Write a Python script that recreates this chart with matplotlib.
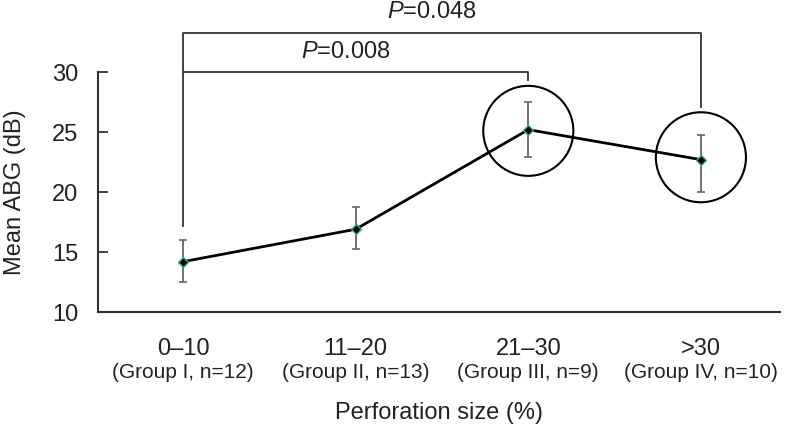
import matplotlib
matplotlib.use("Agg")
import matplotlib.pyplot as plt
from matplotlib.patches import Ellipse

plt.rcParams['font.family'] = ['Liberation Sans', 'DejaVu Sans']
plt.rcParams['mathtext.fontset'] = 'custom'
plt.rcParams['mathtext.it'] = 'Liberation Sans:italic'
plt.rcParams['mathtext.rm'] = 'Liberation Sans'

# data
ranges = ["0\u201310", "11\u201320", "21\u201330", ">30"]
groups = ["(Group I, n=12)", "(Group II, n=13)", "(Group III, n=9)", "(Group IV, n=10)"]
mean_abg = [14.2, 16.9, 25.2, 22.7]
err_low = [1.7, 1.65, 2.3, 2.7]
err_high = [1.8, 1.85, 2.3, 2.05]

# significance brackets: (from group, to group, p text)
brackets = [(0, 2, "0.008"), (0, 3, "0.048")]
circled = [2, 3]

x = list(range(len(ranges)))

fig = plt.figure(figsize=(7.87, 4.34), dpi=100)
ax = fig.add_axes([0.1245, 0.281, 0.867, 0.553])

ax.errorbar(x, mean_abg, yerr=[err_low, err_high], fmt='none',
            ecolor='#666666', elinewidth=1.3, capsize=3, capthick=1.2, zorder=2)
ax.plot(x, mean_abg, color='black', lw=2, zorder=3)
ax.plot(x, mean_abg, 'D', ms=5.5, mfc='black', mec='#2fb38a', mew=1, zorder=4)

for i in circled:
    center_y = mean_abg[i] - 0.1 if i == 2 else mean_abg[i] + 0.2
    ax.add_patch(Ellipse((i, center_y), 0.522, 7.5, fill=False,
                         ec='black', lw=1.5, zorder=5))

# brackets
bc = '#333333'
ax.plot([0, 0, 2, 2], [17.2, 30.0, 30.0, 29.3], color=bc, lw=1.3, clip_on=False)
ax.plot([0, 0, 3, 3], [30.0, 33.25, 33.25, 27.1], color=bc, lw=1.3, clip_on=False)
ax.text(0.94, 31.7, "$P$=" + brackets[0][2], fontsize=17, color='#222222',
        ha='center', va='center', clip_on=False)
ax.text(1.44, 35.0, "$P$=" + brackets[1][2], fontsize=17, color='#222222',
        ha='center', va='center', clip_on=False)

ax.set_xlim(-0.493, 3.46)
ax.set_ylim(10, 30)
ax.set_yticks([10, 15, 20, 25, 30])
ax.tick_params(axis='y', direction='in', length=7, width=1.3, color='#333333',
               labelsize=17, pad=14, labelcolor='#222222')
ax.set_xticks(x)
ax.set_xticklabels(ranges, fontsize=17, color='#222222')
ax.tick_params(axis='x', length=0, pad=19)

for i, g in enumerate(groups):
    ax.text(i, -0.25, g, transform=ax.get_xaxis_transform(), fontsize=15,
            color='#222222', ha='center', va='center')

for s in ['top', 'right']:
    ax.spines[s].set_visible(False)
for s in ['left', 'bottom']:
    ax.spines[s].set_color('#333333')
    ax.spines[s].set_linewidth(1.5)

fig.text(15 / 787, 1 - 192 / 434, "Mean ABG (dB)", fontsize=17, color='#222222',
         rotation=90, ha='center', va='center')
fig.text(439 / 787, 1 - 413 / 434, "Perforation size (%)", fontsize=17,
         color='#222222', ha='center', va='center')

fig.savefig("out.png", dpi=100)
